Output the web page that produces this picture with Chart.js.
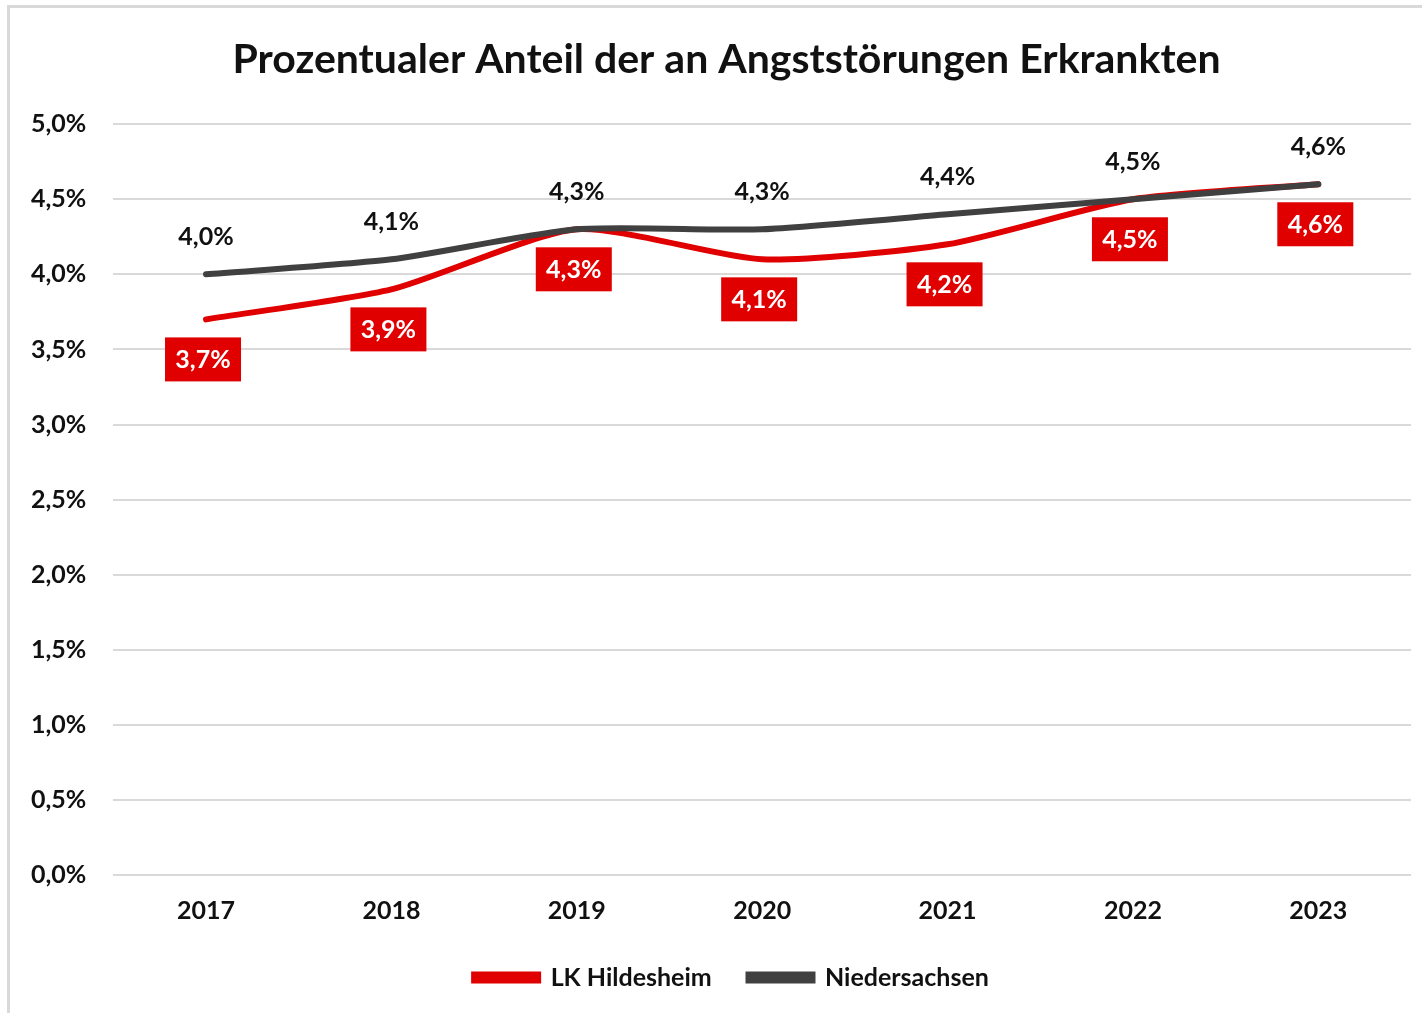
<!DOCTYPE html>
<html>
<head>
<meta charset="utf-8">
<script src="https://cdn.jsdelivr.net/npm/chart.js@4.4.1/dist/chart.umd.min.js"></script>
<style>
  html, body { margin: 0; padding: 0; background: #fff; }
  #wrap { position: relative; width: 1422px; height: 1013px; }
  #frame {
    position: absolute; left: 7px; top: 5px; width: 1420px; height: 1020px;
    border-left: 3px solid #d9d9d9; border-top: 3px solid #d9d9d9;
  }
  canvas { position: absolute; left: 0; top: 0; }
</style>
</head>
<body>
<div id="wrap">
  <div id="frame"></div>
  <canvas id="lineChart" width="1422" height="1013"></canvas>
</div>
<script>
// Daten
const jahre = ["2017", "2018", "2019", "2020", "2021", "2022", "2023"];
const hildesheim = [3.7, 3.9, 4.3, 4.1, 4.2, 4.5, 4.6];
const niedersachsen = [4.0, 4.1, 4.3, 4.3, 4.4, 4.5, 4.6];
const yTicks = [0, 0.5, 1, 1.5, 2, 2.5, 3, 3.5, 4, 4.5, 5];

const ROT = "#e00000";
const GRAU = "#404040";
const FONT = "Lato, 'Open Sans', sans-serif";

const fmt = (v) => v.toFixed(1).replace(".", ",") + "%";

// eigene Datenbeschriftung (kein datalabels-Plugin verfügbar)
const beschriftung = {
  id: "beschriftung",
  afterDatasetsDraw(chart) {
    const ctx = chart.ctx;
    ctx.save();
    ctx.font = "bold 25px " + FONT;
    ctx.textAlign = "center";
    ctx.textBaseline = "middle";
    chart.data.datasets.forEach((ds, di) => {
      const meta = chart.getDatasetMeta(di);
      meta.data.forEach((pt, i) => {
        const txt = fmt(ds.data[i]);
        if (ds.labelStyle === "box") {
          const w = 76, h = 44;
          const cy = pt.y + 40;
          ctx.fillStyle = ROT;
          ctx.fillRect(pt.x - 3 - w / 2, cy - h / 2, w, h);
          ctx.fillStyle = "#fff";
          ctx.fillText(txt, pt.x - 3, cy + 1);
        } else {
          ctx.fillStyle = "#111";
          ctx.fillText(txt, pt.x, pt.y - 37);
        }
      });
    });
    ctx.restore();
  },
};

// Titel und Legende etwas nach rechts (Mitte über dem Diagrammbereich)
const verschieben = (chart, box, dx) => {
  if (!box) return;
  const origDraw = box.draw;
  box.draw = function () {
    chart.ctx.save();
    chart.ctx.translate(dx, 0);
    origDraw.apply(this, arguments);
    chart.ctx.restore();
  };
};
const versatz = {
  id: "versatz",
  beforeInit(chart) {
    verschieben(chart, chart.titleBlock, 19);
    verschieben(chart, chart.legend, 24);
  },
};

const data = {
  labels: jahre,
  datasets: [
    {
      label: "LK Hildesheim",
      data: hildesheim,
      borderColor: ROT,
      backgroundColor: ROT,
      borderWidth: 6,
      pointRadius: 0,
      tension: 0.22,
      borderCapStyle: "round",
      order: 2,
      labelStyle: "box",
    },
    {
      label: "Niedersachsen",
      data: niedersachsen,
      borderColor: GRAU,
      backgroundColor: GRAU,
      borderWidth: 6,
      pointRadius: 0,
      tension: 0.22,
      borderCapStyle: "round",
      order: 1,
      labelStyle: "text",
    },
  ],
};

const options = {
  responsive: false,
  animation: false,
  layout: { padding: { top: 11, left: 4, right: 11, bottom: 13 } },
  plugins: {
    title: {
      display: true,
      text: "Prozentualer Anteil der an Angststörungen Erkrankten",
      color: "#111",
      font: { family: FONT, size: 41, weight: "bold" },
      padding: { top: 24, bottom: 40 },
    },
    legend: {
      display: true,
      position: "bottom",
      labels: {
        color: "#111",
        font: { family: FONT, size: 25, weight: "bold" },
        boxWidth: 64,
        boxHeight: 6,
        padding: 18,
        sort: (a, b) => a.datasetIndex - b.datasetIndex,
        generateLabels: (chart) => {
          const items = Chart.defaults.plugins.legend.labels.generateLabels(chart);
          // etwas Luft nach dem ersten Eintrag
          items.forEach((it) => { if (it.datasetIndex === 0) it.text = it.text + "\u2003"; });
          return items;
        },
      },
    },
    tooltip: { enabled: false },
  },
  scales: {
    x: {
      offset: true,
      grid: { display: false, drawTicks: false },
      border: { display: false },
      ticks: { color: "#111", font: { family: FONT, size: 25, weight: "bold" }, padding: 21 },
    },
    y: {
      min: 0,
      max: 5,
      afterBuildTicks: (axis) => { axis.ticks = yTicks.map((v) => ({ value: v })); },
      grid: { color: "#d9d9d9", lineWidth: 2, drawTicks: false },
      border: { display: false },
      ticks: {
        color: "#111",
        font: { family: FONT, size: 25, weight: "bold" },
        padding: 27,
        callback: (v) => fmt(v),
      },
    },
  },
};

new Chart(document.getElementById("lineChart"), {
  type: "line",
  data: data,
  options: options,
  plugins: [beschriftung, versatz],
});
</script>
</body>
</html>
